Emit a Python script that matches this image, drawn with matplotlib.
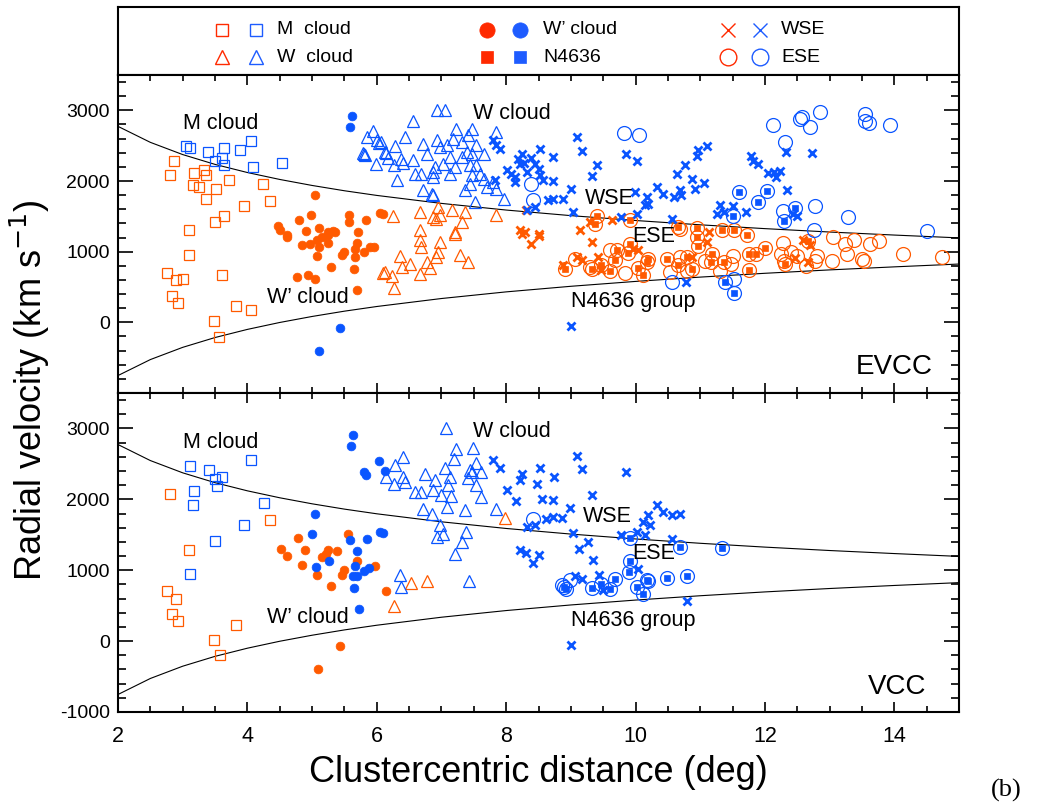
import matplotlib
matplotlib.use("Agg")
import matplotlib.pyplot as plt
from matplotlib.ticker import MultipleLocator

plt.rcParams['font.family'] = ['Liberation Sans', 'DejaVu Sans']

RED = '#FF5A00'
BLUE = '#0A55FF'
LEG_RED = '#FF2A00'
LEG_BLUE = '#1E5CFF'

# ---------------- caustic envelope ----------------
env_x = [2, 2.5, 3, 3.5, 4, 4.5, 5, 5.5, 6, 7, 8, 9, 10, 11, 12, 13, 14, 15]
env_upper = [2773, 2547, 2374, 2235, 2120, 2022, 1937, 1862, 1796, 1683, 1589, 1510, 1441, 1380, 1326, 1278, 1235, 1195]
env_lower = [-753, -527, -354, -215, -100, -2, 83, 158, 224, 337, 431, 510, 579, 640, 694, 742, 785, 825]

# ---------------- EVCC panel (deg, km/s) ----------------
evcc_M_red = [(2.87, 2287), (2.81, 2089), (3.18, 2112), (3.33, 2160), (3.36, 2089), (3.16, 1938), (3.25, 1914),
              (3.52, 1891), (3.72, 2018), (3.36, 1740), (4.24, 1962), (4.35, 1716), (3.95, 1645), (3.64, 1499),
              (3.50, 1419), (3.10, 1301), (3.10, 948), (2.75, 703), (2.90, 594), (3.01, 618), (3.60, 665),
              (2.84, 372), (2.92, 279), (3.83, 226), (4.05, 170), (3.48, 18), (3.56, -202)]
evcc_M_blue = [(3.05, 2489), (3.11, 2466), (3.39, 2409), (3.64, 2470), (3.88, 2433), (4.05, 2560), (3.50, 2287),
               (3.61, 2324), (3.64, 2221), (4.09, 2197), (4.53, 2259)]
evcc_Wp_red = [(5.05, 1806), (4.99, 1513), (4.80, 1452), (4.47, 1362), (4.51, 1306), (4.90, 1291), (5.10, 1339),
               (5.24, 1277), (5.36, 1277), (5.57, 1513), (5.57, 1419), (5.84, 1443), (5.71, 1277), (6.05, 1546),
               (6.10, 1537), (4.62, 1230), (4.62, 1207), (5.15, 1207), (5.25, 1230), (5.33, 1287), (5.07, 1160),
               (4.97, 1113), (4.85, 1089), (5.10, 1065), (5.25, 1122), (5.50, 994), (5.47, 948), (5.66, 1042),
               (5.69, 1127), (5.66, 924), (5.81, 994), (5.95, 1065), (5.89, 1065), (5.07, 934), (5.29, 782),
               (5.65, 750), (4.76, 641), (4.93, 665), (5.04, 612), (5.70, 453)]
evcc_Wp_blue = [(5.62, 2914), (5.59, 2758), (5.43, -75), (5.10, -406)]
evcc_W_red = [(6.25, 1504), (6.36, 934), (6.39, 782), (6.13, 711), (6.10, 700), (6.24, 651), (6.27, 485),
              (6.67, 1560), (6.95, 1631), (6.87, 1490), (7.16, 1594), (7.36, 1560), (7.85, 1513), (7.31, 1419),
              (6.67, 1301), (7.21, 1277), (6.98, 1513), (6.91, 1467), (6.67, 1160), (6.69, 1065), (6.98, 1136),
              (7.21, 1245), (6.95, 994), (6.92, 924), (7.28, 948), (7.41, 853), (6.77, 853), (6.82, 774),
              (6.51, 830), (6.67, 679)]
evcc_W_blue = [(5.94, 2706), (5.85, 2621), (6.00, 2574), (6.04, 2536), (6.06, 2550), (6.28, 2489), (5.79, 2400),
               (5.81, 2385), (5.82, 2362), (6.12, 2409), (6.14, 2395), (6.17, 2329), (5.99, 2245), (6.27, 2221),
               (6.38, 2315), (6.32, 2018),
               (6.93, 3008), (7.06, 3008), (6.56, 2848), (7.22, 2739), (7.47, 2739), (7.85, 2692), (7.41, 2645),
               (6.44, 2621), (6.72, 2527), (6.93, 2574), (7.18, 2598), (7.31, 2550), (7.08, 2503), (7.54, 2503),
               (6.98, 2480), (6.77, 2386), (7.39, 2409), (7.47, 2386), (7.65, 2386), (6.56, 2291), (6.41, 2259),
               (7.03, 2245), (7.13, 2338), (7.31, 2338), (6.90, 2197), (7.21, 2197), (7.44, 2221), (7.54, 2221),
               (6.59, 2103), (6.69, 2103), (6.87, 2126), (6.87, 2055), (7.13, 2103), (7.47, 2079), (7.60, 2103),
               (7.65, 2032), (7.80, 1984), (7.44, 1962), (6.72, 1867), (7.36, 1867), (7.70, 1914), (7.85, 1891),
               (6.85, 1820), (6.87, 1796), (7.97, 1749), (7.52, 1702)]
evcc_WSE_red = [(8.31, 1584), (9.30, 1419), (9.63, 1443), (9.14, 1311), (8.21, 1301), (8.29, 1277), (8.50, 1254),
                (8.24, 1254), (8.39, 1113), (8.50, 1216), (9.33, 1136), (9.42, 924), (9.09, 924), (9.17, 887),
                (8.88, 806), (9.47, 736), (10.04, 1028), (9.96, 1042), (11.13, 1276), (11.10, 1134), (10.87, 919),
                (12.59, 1168), (12.69, 1100), (12.46, 910), (12.67, 849)]
evcc_WSE_blue = [(7.80, 2574), (7.90, 2447), (7.85, 2503), (8.24, 2386), (8.19, 2315), (8.39, 2324), (8.52, 2447),
                 (8.73, 2338), (8.27, 2259), (8.21, 2245), (8.44, 2245), (8.50, 2174), (8.01, 2150), (8.08, 2103),
                 (8.14, 2055), (8.14, 1984), (8.32, 2126), (8.52, 2079), (8.57, 2008), (8.73, 1994), (7.83, 2008),
                 (9.09, 2621), (9.17, 2423), (9.40, 2221), (9.32, 2069), (9.86, 2386), (10.02, 2282), (9.01, 1891),
                 (8.65, 1726), (8.73, 1749), (8.88, 1740), (9.99, 1843), (10.17, 1772), (10.20, 1679), (10.15, 1655),
                 (10.64, 2103), (10.76, 2221), (10.33, 1914), (10.43, 1820), (10.59, 1772), (10.69, 1867), (9.04, 1560),
                 (9.78, 1490), (10.02, 1537), (10.56, 1467), (8.32, 1584), (8.44, 1631), (11.10, 2493), (10.97, 2434),
                 (10.95, 2358), (10.87, 2024), (10.92, 1881), (11.06, 1976), (10.71, 1800), (11.78, 2358),
                 (11.81, 2277), (11.90, 2244), (12.04, 2110), (12.17, 2062), (12.14, 2125), (12.24, 2148),
                 (12.33, 2406), (12.73, 2396), (12.34, 1871), (11.31, 1666), (11.26, 1537), (11.36, 1561),
                 (11.50, 1642), (11.70, 1561), (12.43, 1537), (12.49, 1499), (9.01, -57), (10.78, 570)]
evcc_N4636_red = [(9.40, 1499), (9.37, 1396), (9.91, 1452), (10.66, 1348), (8.91, 759), (9.32, 750), (9.47, 816),
                  (9.60, 726), (9.68, 887), (9.89, 980), (9.71, 1018), (9.91, 1113), (10.04, 774), (10.12, 665),
                  (10.17, 853), (10.20, 901), (10.48, 901), (10.66, 806), (10.79, 924), (10.95, 1338), (11.34, 1308),
                  (11.52, 1300), (11.72, 1242), (10.95, 1207), (10.96, 1086), (11.18, 967), (11.16, 849), (10.87, 753),
                  (11.36, 849), (11.75, 967), (11.86, 967), (12.00, 1054), (11.75, 738), (12.31, 825), (12.66, 1158)]
evcc_N4636_blue = [(11.60, 1839), (12.03, 1857), (11.89, 1704), (11.51, 1499), (12.46, 1620), (12.29, 1429),
                   (11.38, 576), (11.52, 419)]
# ESE members that are not N4636 members (N4636 members below are ESE members too)
evcc_ESE_red = [(9.84, 697), (9.60, 1018), (9.06, 901), (9.30, 782), (10.53, 711), (10.69, 1324), (11.50, 943),
                (11.47, 825), (11.31, 728), (11.08, 871), (12.28, 1120), (12.25, 967), (12.41, 991), (12.49, 943),
                (12.29, 871), (12.64, 801), (12.77, 871), (12.80, 943), (13.03, 871), (13.06, 1207), (13.27, 967),
                (13.24, 1110), (13.37, 1168), (13.50, 895), (13.53, 871), (13.63, 1110), (13.76, 1158), (14.13, 967),
                (14.73, 919), (10.69, 919), (10.79, 728)]
evcc_ESE_blue = [(8.39, 1962), (8.41, 1726), (9.82, 2683), (10.06, 2645), (12.13, 2788), (12.54, 2883), (12.57, 2912),
                 (12.69, 2768), (12.85, 2979), (13.54, 2945), (13.55, 2850), (13.61, 2816), (13.93, 2788),
                 (12.31, 2549), (12.77, 1648), (12.28, 1571), (13.29, 1491), (12.76, 1308), (14.50, 1290),
                 (10.56, 570), (11.52, 610)]

# ---------------- VCC panel ----------------
vcc_M_red = [(2.81, 2082), (4.35, 1715), (3.10, 1291), (2.75, 706), (2.89, 589), (2.84, 377), (2.92, 278),
             (3.83, 232), (3.48, 20), (3.57, -202)]
vcc_M_blue = [(3.11, 2467), (3.40, 2411), (3.50, 2280), (3.61, 2308), (3.53, 2189), (4.06, 2552), (3.17, 2114),
              (3.16, 1927), (4.25, 1955), (3.95, 1644), (3.50, 1412), (3.11, 952)]
vcc_Wp_red = [(4.52, 1305), (4.62, 1201), (4.78, 1451), (4.89, 1291), (4.85, 1079), (5.08, 938), (5.15, 1186),
              (5.21, 1234), (5.25, 1291), (5.38, 1271), (5.29, 777), (5.46, 928), (5.50, 999), (5.56, 1507),
              (5.70, 1130), (5.97, 1055), (6.14, 702), (5.43, -71), (5.09, -400)]
vcc_Wp_blue = [(5.63, 2905), (5.60, 2750), (6.03, 2538), (5.80, 2387), (5.84, 2350), (6.12, 2397), (5.05, 1799),
               (5.00, 1507), (5.58, 1422), (5.85, 1436), (6.05, 1540), (6.10, 1525), (5.70, 1271), (5.26, 1130),
               (5.06, 1045), (5.67, 1055), (5.80, 989), (5.88, 1037), (5.64, 918), (5.69, 918), (5.65, 749),
               (5.72, 452)]
vcc_W_red = [(6.27, 490), (7.98, 1737), (6.53, 819), (6.77, 847)]
vcc_W_blue = [(6.28, 2482), (6.15, 2316), (6.27, 2223), (6.40, 2308), (6.41, 2599), (6.36, 928), (6.38, 763),
              (7.07, 3000), (7.22, 2717), (7.48, 2726), (7.20, 2576), (7.05, 2449), (7.54, 2506), (7.44, 2411),
              (7.47, 2387), (7.61, 2387), (6.74, 2364), (6.44, 2246), (6.90, 2270), (7.13, 2308), (7.41, 2294),
              (7.10, 2199), (7.54, 2199), (6.59, 2105), (6.69, 2105), (6.87, 2129), (7.00, 2058), (7.14, 2044),
              (7.61, 2034), (6.72, 1870), (7.08, 1893), (7.36, 1846), (7.85, 1870), (6.85, 1790), (6.97, 1634),
              (7.03, 1517), (6.93, 1469), (7.38, 1540), (7.31, 1398), (7.21, 1234), (7.42, 847)]
vcc_WSE_blue = [(7.80, 2552), (7.90, 2435), (8.24, 2364), (8.21, 2270), (8.52, 2435), (8.47, 2213), (8.74, 2317),
                (8.02, 2129), (8.15, 1977), (8.56, 2011), (8.73, 1997), (9.09, 2613), (9.18, 2421), (9.32, 2058),
                (9.85, 2387), (8.99, 1884), (8.62, 1729), (8.72, 1751), (8.87, 1743), (8.32, 1610), (8.44, 1634),
                (9.03, 1525), (9.27, 1398), (9.13, 1305), (9.34, 1140), (8.21, 1281), (8.31, 1249), (8.41, 1107),
                (8.50, 1210), (9.07, 918), (9.17, 881), (9.43, 928), (9.50, 716), (9.78, 1493), (10.02, 1540),
                (10.15, 1493), (10.04, 1023), (10.33, 1917), (10.43, 1822), (10.56, 1775), (10.69, 1799),
                (10.20, 1775), (10.12, 1681), (10.22, 1634), (10.56, 1446), (10.79, 565), (9.01, -61)]
vcc_N4636_blue = [(9.91, 1455), (10.68, 1328), (8.89, 763), (8.92, 740), (9.32, 754), (9.47, 811), (9.60, 730),
                  (9.68, 881), (9.90, 975), (10.17, 867), (10.20, 847), (10.48, 895), (10.80, 918), (10.03, 763),
                  (10.12, 660), (9.92, 1130), (11.34, 1312)]
vcc_ESE_blue = [(8.41, 1729), (8.99, 857), (8.86, 788)]

# ---------------- figure ----------------
W, H = 1037, 808
fig = plt.figure(figsize=(W / 100, H / 100), dpi=100)


def rect(l, t, r, b):
    return [l / W, 1 - b / H, (r - l) / W, (b - t) / H]


ax_leg = fig.add_axes(rect(118, 7, 959, 75))
ax1 = fig.add_axes(rect(118, 75, 959, 393))
ax2 = fig.add_axes(rect(118, 393, 959, 712))

STY = {
    'M': dict(marker='s', ms=7.5, mfc='none', mew=0.9),
    'W': dict(marker='^', ms=8.5, mfc='none', mew=0.9),
    'Wp': dict(marker='o', ms=6.3, mew=0.5),
    'N': dict(marker='s', ms=5.0, mew=0.5),
    'WSE': dict(marker='x', ms=6.0, mew=2.0),
    'ESE': dict(marker='o', ms=10.0, mfc='none', mew=0.9),
}


def pts(ax, data, kind, color):
    if not data:
        return
    xs, vs = zip(*data)
    st = dict(STY[kind])
    if st.get('mfc') != 'none':
        st['mfc'] = color
    ax.plot(xs, vs, ls='none', mec=color, **st)


def panel(ax, d, labels, name, show_xlabels):
    ax.plot(env_x, env_upper, color='black', lw=0.8)
    ax.plot(env_x, env_lower, color='black', lw=0.8)
    for kind, color, data in d:
        pts(ax, data, kind, color)
    ax.set_xlim(2, 15)
    ax.set_ylim(-1000, 3500)
    ax.xaxis.set_major_locator(MultipleLocator(2))
    ax.xaxis.set_minor_locator(MultipleLocator(0.5))
    ax.yaxis.set_major_locator(MultipleLocator(1000))
    ax.yaxis.set_minor_locator(MultipleLocator(200))
    ax.tick_params(which='both', direction='in', top=True, right=True, width=1.2)
    ax.tick_params(axis='y', which='major', length=11, pad=6, labelsize=14)
    ax.tick_params(axis='y', which='minor', length=6)
    ax.tick_params(axis='x', which='major', length=7, pad=10, labelsize=15.5)
    ax.tick_params(axis='x', which='minor', length=4)
    for s in ax.spines.values():
        s.set_linewidth(1.5)
    if not show_xlabels:
        ax.tick_params(axis='x', labelbottom=False)
    for txt, x, y in labels:
        ax.text(x, y, txt, fontsize=15.5, ha='left', va='center')
    ax.text(name[1], name[2], name[0], fontsize=20, ha='right', va='center')


panel(ax1, [('M', RED, evcc_M_red), ('M', BLUE, evcc_M_blue),
            ('W', RED, evcc_W_red), ('W', BLUE, evcc_W_blue),
            ('ESE', RED, evcc_ESE_red + evcc_N4636_red), ('ESE', BLUE, evcc_ESE_blue + evcc_N4636_blue),
            ('N', RED, evcc_N4636_red), ('N', BLUE, evcc_N4636_blue),
            ('WSE', RED, evcc_WSE_red), ('WSE', BLUE, evcc_WSE_blue),
            ('Wp', RED, evcc_Wp_red), ('Wp', BLUE, evcc_Wp_blue)],
      [('M cloud', 3.0, 2815), ('W cloud', 7.49, 2951), ('WSE', 9.21, 1749), ('ESE', 9.95, 1216),
       ("W\u2019 cloud", 4.30, 358), ('N4636 group', 9.0, 301)],
      ('EVCC', 14.6, -632), False)
ax1.set_yticks([-1000, 0, 1000, 2000, 3000], ['', '0', '1000', '2000', '3000'])

panel(ax2, [('M', RED, vcc_M_red), ('M', BLUE, vcc_M_blue),
            ('W', RED, vcc_W_red), ('W', BLUE, vcc_W_blue),
            ('ESE', BLUE, vcc_ESE_blue + vcc_N4636_blue),
            ('N', BLUE, vcc_N4636_blue),
            ('WSE', BLUE, vcc_WSE_blue),
            ('Wp', RED, vcc_Wp_red), ('Wp', BLUE, vcc_Wp_blue)],
      [('M cloud', 3.0, 2797), ('W cloud', 7.49, 2952), ('WSE', 9.19, 1751), ('ESE', 9.95, 1234),
       ("W\u2019 cloud", 4.30, 339), ('N4636 group', 9.0, 292)],
      ('VCC', 14.5, -650), True)
ax2.set_yticks([-1000, 0, 1000, 2000, 3000], ['-1000', '0', '1000', '2000', '3000'])

ax2.set_xlabel('Clustercentric distance (deg)', fontsize=26, labelpad=6)
fig.text(30 / W, 1 - 390 / H, 'Radial velocity (km s$^{-1}$)', fontsize=26, rotation=90,
         ha='center', va='center')
fig.text(1006 / W, 1 - 790 / H, '(b)', fontsize=19, family='Liberation Serif', ha='center', va='center')

# ---------------- legend box ----------------
ax_leg.set_xlim(118, 959)
ax_leg.set_ylim(75, 7)
ax_leg.set_xticks([])
ax_leg.set_yticks([])
for s in ax_leg.spines.values():
    s.set_linewidth(1.5)
leg_items = [
    ('s', 'none', 'M  cloud', 222, 256, 277, 30, 9, 1.0),
    ('^', 'none', 'W  cloud', 222, 256, 277, 57, 10, 1.0),
    ('o', 'fill', 'W\u2019 cloud', 487, 520, 543, 30, 11, 0.5),
    ('s', 'fill', 'N4636', 487, 520, 543, 57, 8, 0.5),
    ('x', 'none', 'WSE', 728, 760, 781, 30, 10, 1.0),
    ('o', 'none', 'ESE', 728, 760, 781, 57, 12, 1.0),
]
for m, fill, label, xr, xb, xt, y, ms, mew in leg_items:
    for xx, col in ((xr, LEG_RED), (xb, LEG_BLUE)):
        ax_leg.plot([xx], [y], marker=m, ms=ms, mew=mew, mec=col,
                    mfc=(col if fill == 'fill' else 'none'), ls='none')
    ax_leg.text(xt, y, label, fontsize=14, ha='left', va='center')

fig.savefig('out.png', dpi=100)
